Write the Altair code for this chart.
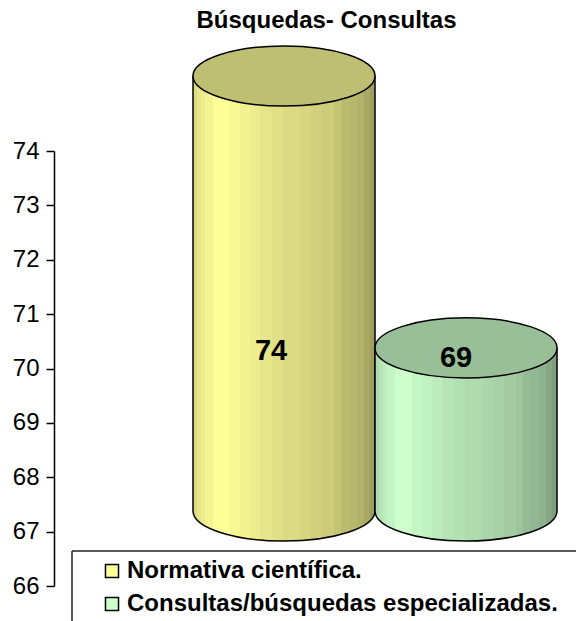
import altair as alt
import pandas as pd

# --- data ---
categories = ["Normativa científica.", "Consultas/búsquedas especializadas."]
values = [74, 69]
base_values = [66, 66]
ticks = [66, 67, 68, 69, 70, 71, 72, 73, 74]
title_text = "Búsquedas- Consultas"

df = pd.DataFrame({"cat": categories, "value": values, "base": base_values})

# --- styling ---
FONT = "Liberation Sans"
side_colors = ["#FFFF99", "#CCFFCC"]
top_colors = ["#BFBF73", "#99BF99"]
strip_edges = [0, 12, 24, 37, 60, 82, 110, 140, 172, 202, 237, 270, 322, 354, 387, 424, 444, 467, 492, 514, 532, 546]
strip_shade = [.86, .90, .93, .96, 1, 1, .97, .95, .93, .90, .88, .86, .84, .82, .80, .77, .74, .72, .70, .66, .62]


def shaded(hex_color):
    rgb = [int(hex_color[i:i + 2], 16) for i in (1, 3, 5)]
    stops = []
    total = strip_edges[-1]
    for k, f in enumerate(strip_shade):
        col = "#%02x%02x%02x" % tuple(int(c * f) for c in rgb)
        stops.append({"offset": strip_edges[k] / total, "color": col})
        stops.append({"offset": strip_edges[k + 1] / total, "color": col})
    return {"gradient": "linear", "x1": 0, "x2": 1, "y1": 0, "y2": 0, "stops": stops}


x_scale = alt.Scale(domain=categories, range=[139, 503], paddingInner=0, paddingOuter=0)
x_enc = alt.X("cat:N", axis=None, sort=None, scale=x_scale)
y_scale_axis = alt.Scale(domain=[66, 74], range=[538, 103])
y_scale_3d = alt.Scale(domain=[66, 74], range=[463, 28])
y_enc = alt.Y("value:Q", axis=None, scale=y_scale_3d)
y2_enc = alt.Y2("base:Q")

ELLIPSE = "M-1,0 A1,0.33 0 0 1 1,0 A1,0.33 0 0 1 -1,0 Z"
BOTTOM = "M-1,0 A1,0.33 0 0 0 1,0"
CYL_SIZE = 182 ** 2
LW = 1.5

base = alt.Chart(df)

axis_layer = base.mark_rule(opacity=0).encode(
    y=alt.Y("value:Q", scale=y_scale_axis, axis=alt.Axis(
        values=ticks, title=None, grid=False, format="d",
        domainColor="black", domainWidth=LW, tickColor="black", tickWidth=LW, tickSize=8,
        labelFont=FONT, labelFontSize=24, labelColor="black", labelPadding=7)),
)

legend_layer = base.mark_bar().encode(
    x=x_enc, y=y_enc, y2=y2_enc,
    color=alt.Color("cat:N", sort=None,
                    scale=alt.Scale(domain=categories, range=side_colors),
                    legend=alt.Legend(
                        orient="none", legendX=46, legendY=511, title=None, padding=0,
                        symbolType="square", symbolSize=170, symbolStrokeColor="black",
                        symbolStrokeWidth=LW, symbolOffset=0,
                        labelFont=FONT, labelFontSize=24, labelFontWeight="bold",
                        labelColor="black", labelOffset=3, labelLimit=520, rowPadding=9)),
)

layers = [axis_layer, legend_layer]
label_shift = [(-13, 275), (-10, 10)]
for i, cat in enumerate(categories):
    sub = base.transform_filter(alt.datum.cat == cat)
    grad = shaded(side_colors[i])
    layers += [
        sub.mark_bar(fill=grad).encode(x=x_enc, y=y_enc, y2=y2_enc),
        sub.mark_point(shape=BOTTOM, size=CYL_SIZE, filled=True, fill=grad, stroke="black",
                       strokeWidth=LW, opacity=1).encode(x=x_enc, y=alt.Y("base:Q", axis=None, scale=y_scale_3d)),
        sub.mark_rule(stroke="black", strokeWidth=LW).encode(
            x=alt.X("cat:N", axis=None, sort=None, bandPosition=0, scale=x_scale),
            y=y_enc, y2=y2_enc),
        sub.mark_rule(stroke="black", strokeWidth=LW).encode(
            x=alt.X("cat:N", axis=None, sort=None, bandPosition=1, scale=x_scale),
            y=y_enc, y2=y2_enc),
        sub.mark_point(shape=ELLIPSE, size=CYL_SIZE, filled=True, fill=top_colors[i], stroke="black",
                       strokeWidth=LW, opacity=1).encode(x=x_enc, y=y_enc),
    ]
for i, cat in enumerate(categories):
    sub = base.transform_filter(alt.datum.cat == cat)
    layers.append(
        sub.mark_text(font=FONT, fontSize=29, fontWeight="bold", color="black", baseline="middle",
                      dx=label_shift[i][0], dy=label_shift[i][1]).encode(
            x=x_enc, y=y_enc, text=alt.Text("value:Q")))

frame_top = alt.Chart(df.head(1)).mark_rule(color="#222222", strokeWidth=LW).encode(
    x=alt.value(18), x2=alt.value(522), y=alt.value(503))
frame_left = alt.Chart(df.head(1)).mark_rule(color="#222222", strokeWidth=LW).encode(
    x=alt.value(18), y=alt.value(503), y2=alt.value(573))
layers += [frame_top, frame_left]

chart = alt.layer(*layers).resolve_scale(y="independent").properties(
    width=522, height=573,
    padding={"left": 46, "top": 40, "right": 0, "bottom": 0},
    autosize=alt.AutoSizeParams(type="none"),
    background="white",
    title=alt.TitleParams(title_text, anchor="middle", dx=11.5, offset=10, font=FONT,
                          fontSize=24, fontWeight="bold", color="black"),
).configure_view(stroke=None)

chart.save("out.html", embed_options={"renderer": "svg", "actions": False})
